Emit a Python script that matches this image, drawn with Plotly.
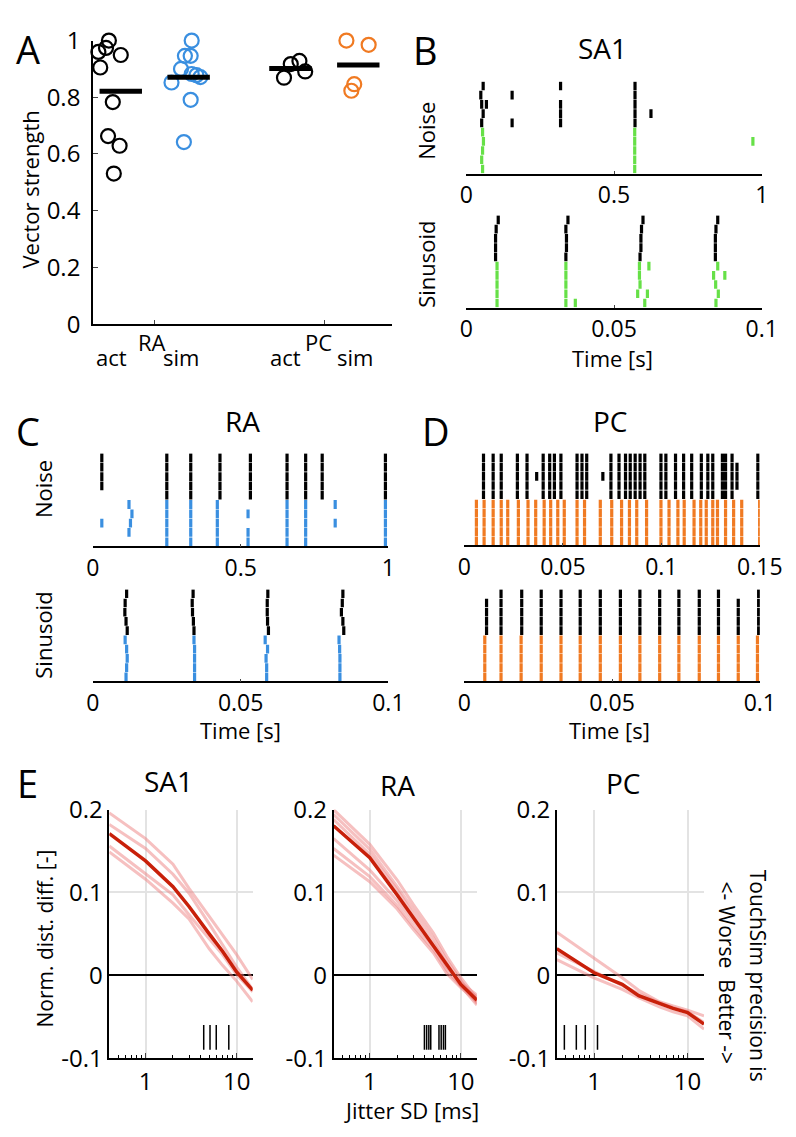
import plotly.graph_objects as go
import numpy as np

W, H = 796, 1137
FONT = "Open Sans"

BLACK = "#000000"
SA1_COL = "#66e047"
RA_COL = "#3a8fe0"
PC_COL = "#f07a22"
DARK_RED = "#c8200a"
LIGHT_RED = "rgba(238,130,130,0.5)"

# ---------------- Panel A: vector strength ----------------
RA_ACT = [1.0, 0.974, 0.96, 0.949, 0.905, 0.783, 0.663, 0.629, 0.531]
RA_ACT_JIT = [-0.070, -0.087, -0.132, 0.0, -0.121, -0.047, -0.075, -0.007, -0.041]
RA_SIM = [1.0, 0.946, 0.946, 0.9, 0.882, 0.878, 0.871, 0.852, 0.791, 0.642]
RA_SIM_JIT = [0.018, -0.022, 0.012, -0.045, 0.018, 0.046, 0.069, -0.101, 0.012, -0.028]
PC_ACT = [0.869, 0.917, 0.928, 0.891]
PC_ACT_JIT = [-0.038, 0.002, 0.053, 0.087]
PC_SIM = [1.0, 0.985, 0.846, 0.823]
PC_SIM_JIT = [-0.070, 0.061, -0.024, -0.041]

# ---------------- Rasters: (spike time, first trial, last trial) ----------------
# trials 1-5 = simulated (coloured), trials 6-10 = actual (black)
SA1_NOISE_ACT = [(0.057, 10, 10), (0.049, 9, 9), (0.052, 8, 8), (0.068, 8, 8),
                 (0.057, 7, 7), (0.052, 6, 6), (0.155, 9, 9), (0.155, 6, 6),
                 (0.319, 10, 10), (0.319, 6, 8), (0.571, 6, 10), (0.625, 7, 7)]
SA1_NOISE_SIM = [(0.055, 5, 5), (0.058, 4, 4), (0.055, 3, 3), (0.052, 2, 2),
                 (0.055, 1, 1), (0.570, 1, 5), (0.970, 4, 4)]
SA1_SIN_ACT = [(0.0108, 10, 10), (0.0101, 9, 9), (0.0099, 6, 8),
               (0.0344, 10, 10), (0.0337, 9, 9), (0.0339, 7, 8), (0.0337, 6, 6),
               (0.0598, 10, 10), (0.0593, 9, 9), (0.0591, 7, 8), (0.0588, 6, 6),
               (0.0851, 10, 10), (0.0845, 9, 9), (0.0843, 6, 8)]
SA1_SIN_SIM = [(0.0104, 1, 5), (0.0337, 1, 5), (0.0369, 1, 1),
               (0.0586, 4, 5), (0.0618, 5, 5), (0.0588, 3, 3), (0.0580, 2, 2),
               (0.0613, 2, 2), (0.0604, 1, 1),
               (0.0851, 5, 5), (0.0837, 4, 4), (0.0875, 4, 4), (0.0844, 3, 3),
               (0.0853, 2, 2), (0.0845, 1, 1)]

RA_NOISE_ACT = [(0.030, 7, 10), (0.250, 6, 10), (0.331, 6, 10), (0.430, 6, 10),
                (0.533, 6, 10), (0.657, 6, 10), (0.720, 6, 10), (0.776, 6, 10),
                (0.990, 6, 10)]
RA_NOISE_SIM = [(0.030, 3, 3), (0.122, 5, 5), (0.132, 4, 4), (0.127, 3, 3),
                (0.122, 2, 2), (0.250, 1, 5), (0.331, 1, 5), (0.421, 1, 5),
                (0.525, 4, 4), (0.525, 1, 2), (0.657, 1, 5), (0.720, 1, 5),
                (0.820, 5, 5), (0.820, 3, 3), (0.990, 1, 5)]
RA_SIN_ACT = [(0.0114, 10, 10), (0.0109, 9, 9), (0.0108, 8, 8), (0.0112, 7, 7), (0.0116, 6, 6),
              (0.0339, 10, 10), (0.0336, 9, 9), (0.0337, 8, 8), (0.0340, 7, 7), (0.0342, 6, 6),
              (0.0592, 10, 10), (0.0590, 8, 9), (0.0591, 7, 7), (0.0594, 6, 6),
              (0.0846, 10, 10), (0.0844, 9, 9), (0.0841, 8, 8), (0.0846, 7, 7), (0.0849, 6, 6)]
RA_SIN_SIM = [(0.0109, 5, 5), (0.0114, 4, 4), (0.0116, 3, 3), (0.0114, 2, 2), (0.0112, 1, 1),
              (0.0342, 5, 5), (0.0344, 1, 4),
              (0.0583, 5, 5), (0.0591, 4, 4), (0.0586, 3, 3), (0.0588, 1, 2),
              (0.0833, 5, 5), (0.0835, 4, 4), (0.0836, 1, 3)]

PC_NOISE_ACT_T = [0.0097, 0.0146, 0.0187, 0.0269, 0.0318, 0.0400, 0.0433, 0.0457,
                  0.0490, 0.0572, 0.0597, 0.0621, 0.0744, 0.0785, 0.0818, 0.0842,
                  0.0867, 0.0892, 0.0916, 0.0998, 0.1023, 0.1072, 0.1113, 0.1154,
                  0.1203, 0.1236, 0.1261, 0.1310, 0.1326, 0.1359, 0.1490]
PC_NOISE_ACT_EXTRA = [(0.0367, 8, 8), (0.0703, 8, 8), (0.1384, 7, 9)]
PC_NOISE_SIM_T = [0.0061, 0.0100, 0.0146, 0.0187, 0.0220, 0.0274, 0.0323, 0.0362,
                  0.0405, 0.0438, 0.0474, 0.0507, 0.0572, 0.0610, 0.0690, 0.0748,
                  0.0798, 0.0838, 0.0875, 0.0925, 0.0998, 0.1039, 0.1084, 0.1116,
                  0.1166, 0.1200, 0.1228, 0.1261, 0.1285, 0.1326, 0.1367, 0.1408,
                  0.1499]
PC_SIN_ACT = [(0.0075, 6, 9), (0.0124, 6, 10), (0.0194, 6, 10), (0.0260, 6, 10),
              (0.0327, 6, 10), (0.0392, 6, 10), (0.0460, 6, 10), (0.0528, 6, 10),
              (0.0594, 6, 10), (0.0661, 6, 10), (0.0726, 6, 10), (0.0795, 6, 10),
              (0.0860, 6, 10), (0.0927, 6, 9), (0.0996, 6, 10)]
PC_SIN_SIM_T = [0.0069, 0.0124, 0.0192, 0.0260, 0.0327, 0.0392, 0.0460, 0.0528,
                0.0594, 0.0661, 0.0726, 0.0795, 0.0860, 0.0927, 0.0992]

# ---------------- Panel E: jitter curves ----------------
JITTER_MS = [0.4, 1, 2, 3, 5, 7, 10, 15]
SA1_MEAN = [0.171, 0.138, 0.107, 0.083, 0.050, 0.029, 0.004, -0.018]
SA1_CELLS = [[0.196, 0.165, 0.134, 0.105, 0.071, 0.049, 0.025, -0.005],
             [0.182, 0.153, 0.122, 0.099, 0.062, 0.037, 0.010, -0.017],
             [0.156, 0.122, 0.097, 0.073, 0.044, 0.025, 0.001, -0.020],
             [0.149, 0.116, 0.087, 0.068, 0.032, 0.012, -0.007, -0.032]]
RA_MEAN = [0.1805, 0.142, 0.097, 0.0695, 0.035, 0.012, -0.011, -0.030]
RA_CELLS = [[0.200, 0.158, 0.115, 0.0855, 0.051, 0.023, -0.003, -0.028],
            [0.194, 0.152, 0.107, 0.0795, 0.045, 0.018, -0.007, -0.034],
            [0.188, 0.146, 0.103, 0.0735, 0.039, 0.014, -0.013, -0.036],
            [0.165, 0.127, 0.090, 0.0655, 0.035, 0.010, -0.009, -0.024],
            [0.153, 0.119, 0.084, 0.0595, 0.031, 0.006, -0.013, -0.026],
            [0.145, 0.113, 0.080, 0.0555, 0.027, 0.002, -0.015, -0.032]]
PC_MEAN = [0.032, 0.003, -0.011, -0.0245, -0.034, -0.040, -0.045, -0.059]
PC_CELLS = [[0.052, 0.021, -0.003, -0.018, -0.032, -0.037, -0.042, -0.049],
            [0.027, 0.005, -0.012, -0.022, -0.033, -0.039, -0.044, -0.057],
            [0.019, -0.003, -0.017, -0.027, -0.038, -0.044, -0.049, -0.065]]
SA1_STIM = [4.35, 5.1, 5.97, 8.2]
RA_STIM = [3.98, 4.21, 4.45, 4.67, 5.75, 6.08, 6.44, 6.76]
PC_STIM = [0.482, 0.647, 0.807, 1.09]


def fx(px):
    return px / W


def fy(py):
    return 1 - py / H


layout = dict(
    width=W, height=H,
    margin=dict(l=0, r=0, t=0, b=0),
    plot_bgcolor="white", paper_bgcolor="white",
    showlegend=False,
    font=dict(family=FONT, size=22, color="black"),
)


def set_axes(n, xpx, ypx, xopts, yopts):
    sfx = "" if n == 1 else str(n)
    xa = dict(domain=[fx(xpx[0]), fx(xpx[1])], anchor="y" + sfx)
    ya = dict(domain=[fy(ypx[1]), fy(ypx[0])], anchor="x" + sfx)
    xa.update(xopts)
    ya.update(yopts)
    layout["xaxis" + sfx] = xa
    layout["yaxis" + sfx] = ya


fig = go.Figure()

# ---------------- A ----------------
slots = [(RA_ACT, RA_ACT_JIT, 0.8, BLACK), (RA_SIM, RA_SIM_JIT, 1.2, RA_COL),
         (PC_ACT, PC_ACT_JIT, 1.8, BLACK), (PC_SIM, PC_SIM_JIT, 2.2, PC_COL)]
for vals, jit, xc, col in slots:
    fig.add_trace(go.Scatter(
        x=[xc + j for j in jit], y=vals, mode="markers", cliponaxis=False,
        marker=dict(symbol="circle-open", size=14, color=col, line=dict(width=2.2, color=col)),
        xaxis="x", yaxis="y"))
    m = float(np.mean(vals))
    fig.add_trace(go.Scatter(
        x=[xc - 0.125, xc + 0.125], y=[m, m], mode="lines", cliponaxis=False,
        line=dict(color=BLACK, width=5), xaxis="x", yaxis="y"))

set_axes(1, (81, 392), (15, 307),
         dict(range=[0.636, 2.4], tickvals=[1, 2], ticktext=["", ""], ticks="inside",
              ticklen=4, showline=True, linecolor=BLACK, linewidth=1.5,
              showgrid=False, zeroline=False),
         dict(range=[0, 1], tickvals=[0, 0.2, 0.4, 0.6, 0.8, 1],
              ticktext=["0", "0.2", "0.4", "0.6", "0.8", "1"], ticks="inside",
              ticklen=5, showline=True, linecolor=BLACK, linewidth=1.5,
              showgrid=False, zeroline=False, tickfont=dict(size=24),
              ticklabelstandoff=6))


# ---------------- rasters ----------------
def raster_xy(spikes):
    xs, ys = [], []
    for t, lo, hi in spikes:
        for r in range(lo, hi + 1):
            xs += [t, t, None]
            ys += [r - 1 + 0.03, r - 0.03, None]
    return xs, ys


def add_raster(n, act, sim, col):
    for spikes, c in ((act, BLACK), (sim, col)):
        xs, ys = raster_xy(spikes)
        fig.add_trace(go.Scatter(x=xs, y=ys, mode="lines", line=dict(color=c, width=3.2),
                                 xaxis="x%d" % n, yaxis="y%d" % n))


def raster_axes(n, xpx, ypx, xmax, tv, tt):
    set_axes(n, xpx, ypx,
             dict(range=[0, xmax], tickvals=tv, ticktext=tt, ticks="inside", ticklen=3,
                  showline=True, linecolor=BLACK, linewidth=1.5, showgrid=False,
                  zeroline=False, tickfont=dict(size=23)),
             dict(range=[0, 10], visible=False))


pc_noise_act = [(t, 6, 10) for t in PC_NOISE_ACT_T] + PC_NOISE_ACT_EXTRA
pc_noise_sim = [(t, 1, 5) for t in PC_NOISE_SIM_T]
pc_sin_sim = [(t, 1, 5) for t in PC_SIN_SIM_T]

add_raster(2, SA1_NOISE_ACT, SA1_NOISE_SIM, SA1_COL)
add_raster(3, SA1_SIN_ACT, SA1_SIN_SIM, SA1_COL)
add_raster(4, RA_NOISE_ACT, RA_NOISE_SIM, RA_COL)
add_raster(5, RA_SIN_ACT, RA_SIN_SIM, RA_COL)
add_raster(6, pc_noise_act, pc_noise_sim, PC_COL)
add_raster(7, PC_SIN_ACT, pc_sin_sim, PC_COL)

raster_axes(2, (469, 776), (57, 152), 1, [0, 0.5, 1], ["0", "0.5", "1"])
raster_axes(3, (469, 776), (195, 290), 0.1, [0, 0.05, 0.1], ["0", "0.05", "0.1"])
raster_axes(4, (81, 388), (440, 536), 1, [0, 0.5, 1], ["0", "0.5", "1"])
raster_axes(5, (81, 388), (580, 675), 0.1, [0, 0.05, 0.1], ["0", "0.05", "0.1"])
raster_axes(6, (467, 774), (440, 535), 0.15, [0, 0.05, 0.1, 0.15], ["0", "0.05", "0.1", "0.15"])
raster_axes(7, (467, 774), (580, 675), 0.1, [0, 0.05, 0.1], ["0", "0.05", "0.1"])

# ---------------- E ----------------
e_panels = [(8, (98, 247), SA1_MEAN, SA1_CELLS, SA1_STIM),
            (9, (331, 480), RA_MEAN, RA_CELLS, RA_STIM),
            (10, (563, 716), PC_MEAN, PC_CELLS, PC_STIM)]
minor_vals = [0.4, 0.5, 0.6, 0.7, 0.8, 0.9, 2, 3, 4, 5, 6, 7, 8, 9]
for n, xpx, mean, cells, stim in e_panels:
    xa, ya = "x%d" % n, "y%d" % n
    for c in cells:
        fig.add_trace(go.Scatter(x=JITTER_MS, y=c, mode="lines",
                                 line=dict(color=LIGHT_RED, width=3), xaxis=xa, yaxis=ya))
    fig.add_trace(go.Scatter(x=JITTER_MS, y=mean, mode="lines",
                             line=dict(color=DARK_RED, width=3.5), xaxis=xa, yaxis=ya))
    sx, sy = [], []
    for s in stim:
        sx += [s, s, None]
        sy += [-0.09, -0.06, None]
    fig.add_trace(go.Scatter(x=sx, y=sy, mode="lines", line=dict(color=BLACK, width=1.5),
                             xaxis=xa, yaxis=ya))
    set_axes(n, xpx, (807, 1063),
             dict(type="log", range=[np.log10(0.4), np.log10(15)], tickvals=[1, 10],
                  ticktext=["1", "10"], ticks="inside", ticklen=5, showline=True,
                  linecolor=BLACK, linewidth=1.5, showgrid=True, gridcolor="#e3e3e3",
                  gridwidth=1.5, zeroline=False, tickfont=dict(size=24),
                  ticklabelstandoff=1,
                  minor=dict(tickvals=minor_vals, ticks="inside", ticklen=3,
                             tickcolor=BLACK, showgrid=False)),
             dict(range=[-0.1, 0.2], tickvals=[-0.1, 0, 0.1, 0.2],
                  ticktext=["-0.1", "0", "0.1", "0.2"], ticks="", showline=True,
                  linecolor=BLACK, linewidth=1.5, showgrid=True, gridcolor="#e3e3e3",
                  gridwidth=1.5, zeroline=True, zerolinecolor=BLACK, zerolinewidth=1.5,
                  tickfont=dict(size=24)))

# ---------------- text ----------------
ann = []


def text(s, px, py, size=22, angle=0):
    ann.append(dict(text=s, x=fx(px), y=fy(py), xref="paper", yref="paper",
                    showarrow=False, font=dict(size=size, family=FONT, color="black"),
                    textangle=angle, xanchor="center", yanchor="middle"))


for s, px, py in [("A", 13, 24), ("B", 427, 25), ("C", 13, 417), ("D", 437, 417), ("E", 13, 780)]:
    text(s, px, py, size=38)
for s, px, py in [("SA1", 610, 23), ("RA", 236, 407), ("PC", 618, 407),
                  ("SA1", 160, 778), ("RA", 397, 782), ("PC", 632, 780)]:
    text(s, px, py, size=28)

text("Vector strength", 16, 168, angle=-90)
for s, px, py in [("act", 100, 341), ("RA", 142, 325), ("sim", 173, 341),
                  ("act", 281, 341), ("PC", 315, 325), ("sim", 353, 341)]:
    text(s, px, py)

text("Noise", 427, 108, angle=-90)
text("Sinusoid", 427, 245, angle=-90)
text("Noise", 29, 477, angle=-90)
text("Sinusoid", 29, 627, angle=-90)
text("Time [s]", 621, 342)
text("Time [s]", 234, 725)
text("Time [s]", 618, 725)

text("Norm. dist. diff. [-]", 31, 940, size=21, angle=-90)
text("Jitter SD [ms]", 412, 1116)
text("TouchSim precision is", 773, 978, size=21, angle=90)
text("&lt;- Worse  Better -&gt;", 740, 975, size=21, angle=90)

layout["annotations"] = ann
fig.update_layout(**layout)

fig.write_html("out.html")
